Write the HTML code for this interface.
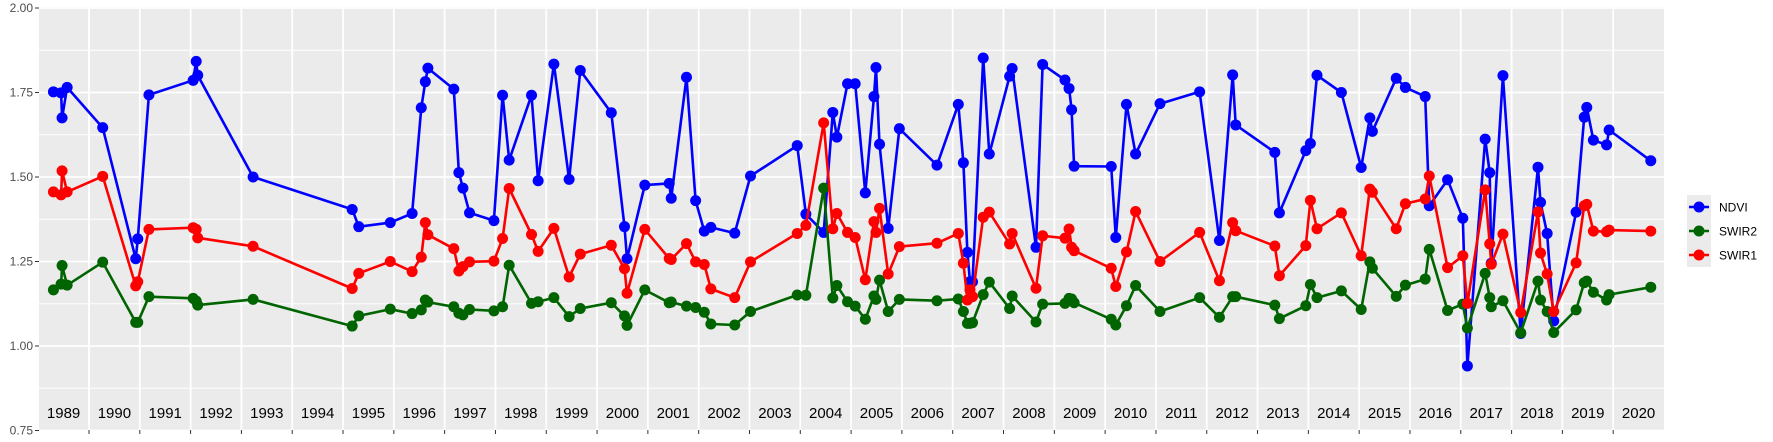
<!DOCTYPE html>
<html><head><meta charset="utf-8">
<style>
body{margin:0;background:#fff;}
svg{display:block;font-family:"Liberation Sans",sans-serif;}
</style></head>
<body>
<svg id="chart" width="1773" height="442" xmlns="http://www.w3.org/2000/svg">
  <rect x="39" y="7" width="1625" height="423" fill="#ebebeb"/>
  <g id="grid"></g>
  <g id="yaxis"></g>
  <g id="xaxis"></g>
  <g id="series"></g>
  <g id="legend">
    <rect x="1687" y="195" width="24" height="72" fill="#ebebeb"/>
  </g>
</svg>
<script>
const dates = [1989.30,1989.45,1989.47,1989.57,1990.27,1990.92,1990.96,1991.18,1992.05,1992.11,1992.14,1993.23,
1995.18,1995.31,1995.93,1996.36,1996.54,1996.62,1996.67,1997.18,1997.28,1997.36,1997.49,1997.97,1998.14,1998.27,1998.71,1998.84,1999.15,1999.45,1999.67,
2000.28,2000.54,2000.59,2000.94,2001.42,2001.46,2001.76,2001.94,2002.11,2002.24,2002.71,2003.02,2003.94,2004.11,2004.46,2004.64,2004.72,2004.93,
2005.08,2005.28,2005.45,2005.49,2005.56,2005.73,2005.95,2006.69,2007.11,2007.21,2007.29,2007.34,2007.39,2007.60,2007.72,2008.12,2008.17,2008.64,2008.77,
2009.21,2009.29,2009.34,2009.39,2010.12,2010.21,2010.42,2010.60,2011.08,2011.86,2012.25,2012.51,2012.57,2013.34,2013.43,2013.95,2014.04,2014.17,2014.65,
2015.04,2015.21,2015.26,2015.73,2015.91,2016.30,2016.38,2016.74,2017.04,2017.13,2017.48,2017.57,2017.60,2017.83,2018.18,2018.52,2018.57,2018.70,2018.83,
2019.27,2019.43,2019.48,2019.61,2019.87,2019.92,2020.74];
const ndvi = [1.752,1.749,1.675,1.765,1.646,1.258,1.317,1.743,1.786,1.842,1.801,1.500,
1.404,1.353,1.365,1.392,1.705,1.782,1.822,1.760,1.513,1.467,1.394,1.371,1.742,1.550,1.742,1.489,1.834,1.493,1.815,
1.690,1.353,1.258,1.476,1.481,1.437,1.795,1.430,1.340,1.351,1.334,1.503,1.593,1.390,1.336,1.691,1.618,1.776,
1.776,1.453,1.738,1.824,1.597,1.348,1.643,1.535,1.715,1.542,1.277,1.190,1.190,1.852,1.568,1.798,1.821,1.292,1.833,
1.787,1.762,1.699,1.532,1.531,1.321,1.715,1.568,1.717,1.752,1.312,1.802,1.654,1.573,1.394,1.578,1.599,1.801,1.750,
1.528,1.675,1.635,1.792,1.765,1.738,1.415,1.492,1.378,0.941,1.612,1.513,1.245,1.800,1.037,1.529,1.425,1.333,1.074,
1.396,1.677,1.706,1.609,1.595,1.639,1.548];
const swir1 = [1.456,1.447,1.518,1.456,1.502,1.178,1.190,1.345,1.350,1.345,1.320,1.295,
1.170,1.215,1.250,1.220,1.263,1.365,1.329,1.288,1.222,1.235,1.249,1.251,1.318,1.466,1.330,1.280,1.348,1.204,1.272,
1.298,1.229,1.156,1.345,1.259,1.256,1.303,1.249,1.241,1.169,1.143,1.249,1.333,1.357,1.660,1.347,1.392,1.336,
1.321,1.196,1.368,1.336,1.407,1.213,1.294,1.304,1.333,1.245,1.136,1.166,1.146,1.381,1.396,1.302,1.333,1.171,1.326,
1.319,1.346,1.292,1.282,1.230,1.176,1.278,1.398,1.250,1.336,1.193,1.365,1.341,1.296,1.208,1.297,1.431,1.347,1.394,
1.267,1.464,1.455,1.347,1.421,1.435,1.503,1.232,1.267,1.126,1.462,1.302,1.242,1.331,1.099,1.397,1.275,1.213,1.102,
1.246,1.415,1.419,1.340,1.338,1.343,1.340];
const swir2 = [1.166,1.183,1.238,1.180,1.248,1.070,1.070,1.146,1.141,1.133,1.121,1.138,
1.059,1.089,1.109,1.096,1.107,1.136,1.130,1.116,1.097,1.092,1.108,1.104,1.116,1.239,1.126,1.131,1.143,1.087,1.111,
1.128,1.089,1.061,1.166,1.128,1.130,1.118,1.114,1.100,1.065,1.062,1.102,1.151,1.150,1.467,1.142,1.179,1.131,
1.118,1.079,1.148,1.138,1.195,1.102,1.138,1.134,1.139,1.102,1.067,1.067,1.069,1.152,1.189,1.111,1.148,1.071,1.124,
1.126,1.141,1.139,1.128,1.079,1.062,1.119,1.179,1.102,1.143,1.085,1.146,1.146,1.121,1.081,1.119,1.182,1.143,1.163,
1.108,1.249,1.230,1.147,1.180,1.198,1.286,1.105,1.124,1.053,1.215,1.143,1.116,1.134,1.039,1.192,1.136,1.102,1.040,
1.107,1.187,1.192,1.159,1.136,1.152,1.174];
const yTicks = [0.75,1.00,1.25,1.50,1.75,2.00];
const yTickLabels = ["0.75","1.00","1.25","1.50","1.75","2.00"];
const years = [1989,1990,1991,1992,1993,1994,1995,1996,1997,1998,1999,2000,2001,2002,2003,2004,2005,2006,2007,2008,2009,2010,2011,2012,2013,2014,2015,2016,2017,2018,2019,2020];
const seriesNames = ["NDVI","SWIR2","SWIR1"];
const seriesColors = ["#0000ff","#006400","#ff0000"];

const NS="http://www.w3.org/2000/svg";
const PL=39, PR=1664, PT=7, PB=430;
const X0=1989.016, X1=2021.0;
function xs(t){return PL+(t-X0)/(X1-X0)*(PR-PL);}
function ys(v){return 8+(2-v)*338;}
function mk(tag,attrs,parent){const e=document.createElementNS(NS,tag);for(const k in attrs)e.setAttribute(k,attrs[k]);parent.appendChild(e);return e;}

const grid=document.getElementById('grid');
for(let i=0;i<yTicks.length-1;i++){
  const m=(yTicks[i]+yTicks[i+1])/2;
  const l=mk('line',{x1:PL,x2:PR,y1:ys(m),y2:ys(m),stroke:'#fff','stroke-width':0.9},grid);
  
  
}
yTicks.forEach(v=>{
  const l=mk('line',{x1:PL,x2:PR,y1:ys(v),y2:ys(v),stroke:'#fff','stroke-width':1.8},grid);
  
  
});
years.forEach(y=>{
  if(y<=X0) return;
  const l=mk('line',{x1:xs(y),x2:xs(y),y1:PT,y2:PB,stroke:'#fff','stroke-width':1.8},grid);
  
  
});

const ya=document.getElementById('yaxis');
yTicks.forEach((v,i)=>{
  const t=mk('line',{x1:35,x2:39,y1:ys(v),y2:ys(v),stroke:'#333','stroke-width':1},ya);
  
  
  const tx=mk('text',{x:33,y:ys(v)+4,'text-anchor':'end','font-size':12,fill:'#4d4d4d'},ya);
  tx.textContent=yTickLabels[i];
  
  
});

const xa=document.getElementById('xaxis');
years.forEach(y=>{
  if(y>X0){
    const t=mk('line',{x1:xs(y),x2:xs(y),y1:PB,y2:PB+4,stroke:'#333','stroke-width':1},xa);
    
    
  }
  const tx=mk('text',{x:xs(y+0.5),y:418,'text-anchor':'middle','font-size':15,fill:'#000'},xa);
  tx.textContent=String(y);
  
  
});

const sg=document.getElementById('series');
const allData=[ndvi,swir2,swir1];
const order=[0,1,2];
order.forEach(si=>{
  const vals=allData[si], col=seriesColors[si];
  const g=mk('g',{},sg);
  
  
  const pts=dates.map((d,i)=>xs(d).toFixed(1)+','+ys(vals[i]).toFixed(1)).join(' ');
  const pl=mk('polyline',{points:pts,fill:'none',stroke:col,'stroke-width':2.6,'stroke-linejoin':'round'},g);
  
  
  dates.forEach((d,i)=>{
    const c=mk('circle',{cx:xs(d),cy:ys(vals[i]),r:5.5,fill:col},g);
    
    
  });
});

const lg=document.getElementById('legend');
seriesNames.forEach((n,i)=>{
  const cy=207+i*24;
  const e=mk('g',{},lg);
  
  
  mk('line',{x1:1689,x2:1709,y1:cy,y2:cy,stroke:seriesColors[i],'stroke-width':2.6},e);
  mk('circle',{cx:1699,cy:cy,r:5.5,fill:seriesColors[i]},e);
  const t=mk('text',{x:1719,y:cy+4.5,'font-size':12,fill:'#000'},e);
  t.textContent=n;
});
</script>
</body></html>
